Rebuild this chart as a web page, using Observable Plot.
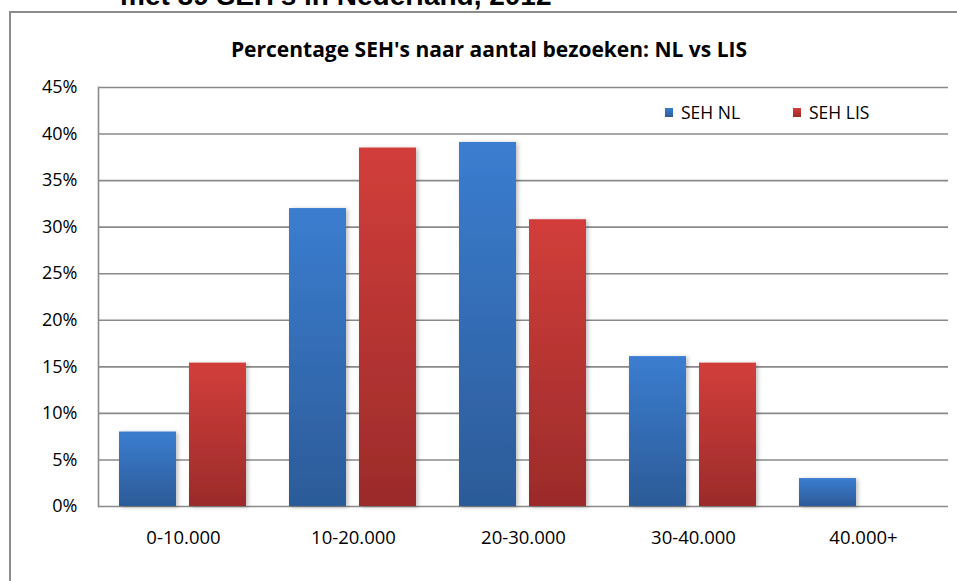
<!DOCTYPE html>
<html>
<head>
<meta charset="utf-8">
<script src="https://cdn.jsdelivr.net/npm/d3@7"></script>
<script src="https://cdn.jsdelivr.net/npm/@observablehq/plot@0.6"></script>
<style>
  html, body { margin: 0; padding: 0; background: #fff; }
  #wrap { position: relative; width: 957px; height: 581px; overflow: hidden; background: #fff; }
  #sup { position: absolute; left: 120px; top: -20px; font-family: "Liberation Sans", Arial, sans-serif; font-weight: bold; font-size: 28px; color: #000; white-space: nowrap; }
  #frame { position: absolute; left: 9px; top: 11px; width: 1000px; height: 700px; border: 2px solid #8c8c8c; box-sizing: border-box; }
  #title { position: absolute; left: 0; width: 978px; top: 35px; text-align: center; font-family: "Open Sans", sans-serif; font-weight: bold; font-size: 21px; color: #000; }
  #legend { position: absolute; left: 665px; top: 100px; font-family: "Open Sans", sans-serif; font-size: 17.5px; color: #000; display: flex; }
  #legend span.item { display: inline-flex; align-items: center; }
  #legend i { display: inline-block; width: 8px; height: 9px; margin-right: 8px; }
  #chart { position: absolute; left: 0; top: 70px; }
</style>
</head>
<body>
<div id="wrap">
  <div id="sup">met 89 SEH's in Nederland, 2012</div>
  <div id="frame"></div>
  <div id="title">Percentage SEH's naar aantal bezoeken: NL vs LIS</div>
  <div id="chart"></div>
  <div id="legend"></div>
</div>
<script>
const categories = ["0-10.000", "10-20.000", "20-30.000", "30-40.000", "40.000+"];
const seriesNames = ["SEH NL", "SEH LIS"];
const nlValues = [8.0, 32.0, 39.1, 16.1, 3.0];
const lisValues = [15.4, 38.5, 30.8, 15.4, 0];
const yTicks = [0, 5, 10, 15, 20, 25, 30, 35, 40, 45];
const seriesColors = {
  "SEH NL": ["#3b7dd0", "#2c5b98"],
  "SEH LIS": ["#d23e3b", "#9b2b2a"]
};

const data = [];
categories.forEach((c, i) => {
  data.push({cat: c, series: "SEH NL", value: nlValues[i]});
  data.push({cat: c, series: "SEH LIS", value: lisValues[i]});
});

const gradId = s => s === "SEH NL" ? "url(#gNL)" : "url(#gLIS)";

const plot = Plot.plot({
  width: 957,
  height: 511,
  marginLeft: 97,
  marginRight: 8,
  marginTop: 17,
  marginBottom: 75,
  style: {fontFamily: "'Open Sans', sans-serif", fontSize: "18px", color: "#000", background: "transparent"},
  fx: {domain: categories, padding: 0, label: null},
  x: {domain: seriesNames, paddingInner: 0.183, paddingOuter: 0.29, axis: null},
  y: {domain: [0, 45], label: null},
  marks: [
    Plot.ruleY(yTicks, {stroke: "#8a8a8a", strokeWidth: 1.6}),
    Plot.frame({anchor: "left", facetAnchor: "left", stroke: "#8a8a8a", strokeWidth: 1.6}),
    Plot.barY(data, {fx: "cat", x: "series", y: "value", fill: d => gradId(d.series), filter: d => d.value > 0}),
    Plot.axisY({ticks: yTicks, tickFormat: d => d + "%", tickSize: 0, tickPadding: 21, fontSize: 18, label: null}),
    Plot.axisFx({anchor: "bottom", tickSize: 0, tickPadding: 24, fontSize: 18.5, label: null})
  ]
});

const ns = "http://www.w3.org/2000/svg";
const defs = document.createElementNS(ns, "defs");
defs.innerHTML = `
  <linearGradient id="gNL" x1="0" y1="0" x2="0" y2="1">
    <stop offset="0" stop-color="${seriesColors["SEH NL"][0]}"/>
    <stop offset="1" stop-color="${seriesColors["SEH NL"][1]}"/>
  </linearGradient>
  <linearGradient id="gLIS" x1="0" y1="0" x2="0" y2="1">
    <stop offset="0" stop-color="${seriesColors["SEH LIS"][0]}"/>
    <stop offset="1" stop-color="${seriesColors["SEH LIS"][1]}"/>
  </linearGradient>
  <filter id="shadow" x="-20%" y="-20%" width="150%" height="150%">
    <feDropShadow dx="2" dy="1" stdDeviation="2" flood-color="#000" flood-opacity="0.25"/>
  </filter>`;
plot.insertBefore(defs, plot.firstChild);
plot.querySelectorAll("rect").forEach(r => {
  const f = r.getAttribute("fill");
  if (f && f.startsWith("url(")) r.setAttribute("filter", "url(#shadow)");
});
document.getElementById("chart").appendChild(plot);

const legend = document.getElementById("legend");
seriesNames.forEach((s, i) => {
  const item = document.createElement("span");
  item.className = "item";
  item.style.width = i === 0 ? "128px" : "auto";
  item.innerHTML = `<i style="background:linear-gradient(${seriesColors[s][0]}, ${seriesColors[s][1]})"></i>${s}`;
  legend.appendChild(item);
});
</script>
</body>
</html>
